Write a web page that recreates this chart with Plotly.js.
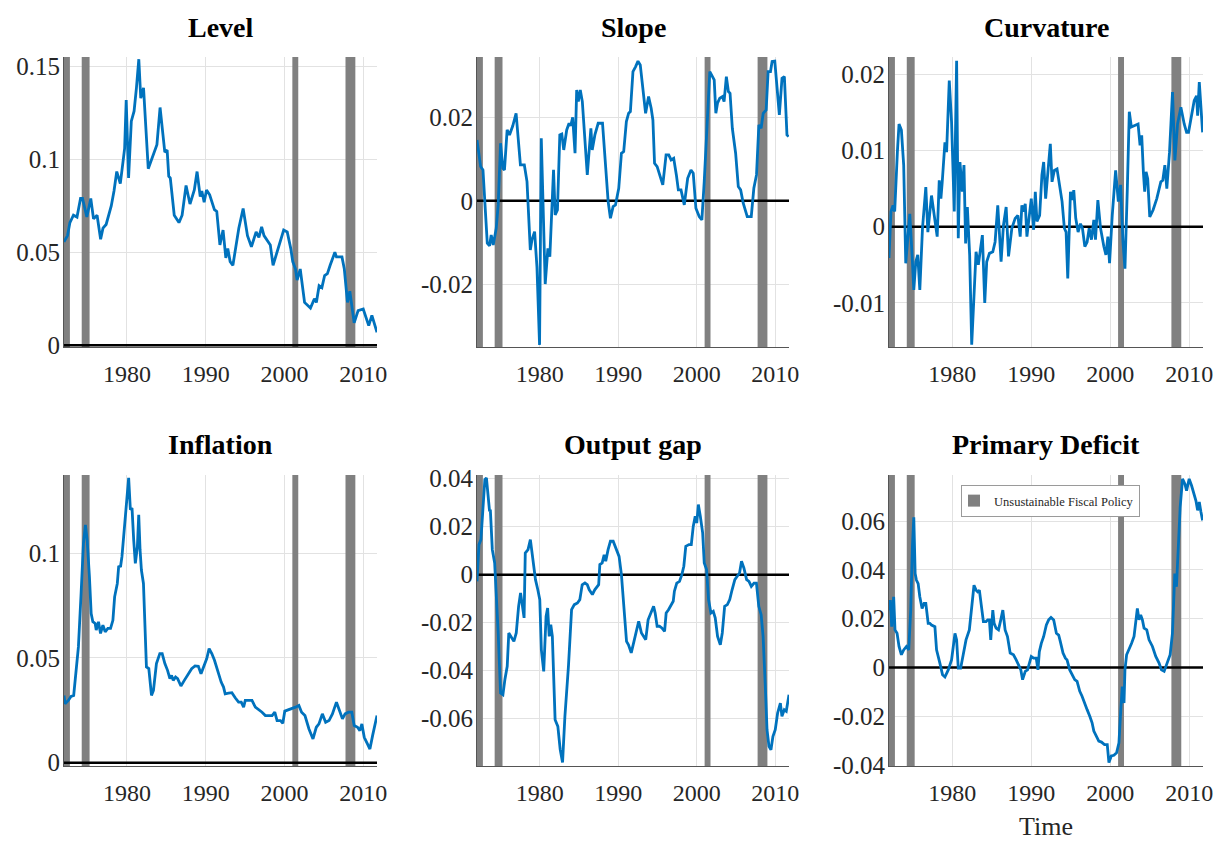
<!DOCTYPE html>
<html>
<head>
<meta charset="utf-8">
<script src="https://cdn.plot.ly/plotly-3.0.1.min.js"></script>
<style>html,body{margin:0;padding:0;background:#fff;}#chart{width:1222px;height:843px;}</style>
</head>
<body>
<div id="chart"></div>
<script>
// ---------- data ----------
const levelYears = [
1972.0, 1972.45, 1972.75, 1973.2, 1973.65, 1974.1, 1974.35, 1974.9, 1975.4, 1975.75,
1976.2, 1976.65, 1976.95, 1977.35, 1978.0, 1978.35, 1978.7, 1979.15, 1979.5, 1979.7,
1979.9, 1980.2, 1980.55, 1980.9, 1981.2, 1981.5, 1981.75, 1982.1, 1982.7, 1983.1,
1983.8, 1984.2, 1984.6, 1984.8, 1985.1, 1985.3, 1985.5, 1986.0, 1986.6, 1987.0,
1987.5, 1988.0, 1988.55, 1988.9, 1989.3, 1989.5, 1989.8, 1990.1, 1990.5, 1991.1,
1991.4, 1991.8, 1992.2, 1992.55, 1992.8, 1993.1, 1993.45, 1994.2, 1994.75, 1995.3,
1995.8, 1996.4, 1996.75, 1997.1, 1997.4, 1998.2, 1998.55, 1999.3, 1999.9, 2000.35,
2000.8, 2001.05, 2001.4, 2001.6, 2002.0, 2002.55, 2003.3, 2003.8, 2004.05, 2004.4,
2004.75, 2005.1, 2005.45, 2005.8, 2006.4, 2006.6, 2007.3, 2007.6, 2008.0, 2008.3,
2008.85, 2009.35, 2010.0, 2010.7, 2011.1, 2011.75];
const levelValues = [
0.0556, 0.059, 0.066, 0.070, 0.069, 0.079, 0.079, 0.069, 0.079, 0.068,
0.070, 0.057, 0.063, 0.065, 0.075, 0.083, 0.0935, 0.087, 0.099, 0.106,
0.132, 0.090, 0.1206, 0.126, 0.1386, 0.154, 0.133, 0.1386, 0.095, 0.100,
0.108, 0.128, 0.114, 0.104, 0.105, 0.091, 0.090, 0.070, 0.066, 0.070,
0.086, 0.076, 0.0836, 0.0935, 0.080, 0.083, 0.077, 0.0836, 0.081, 0.073,
0.072, 0.054, 0.062, 0.047, 0.052, 0.045, 0.043, 0.063, 0.0736, 0.059,
0.053, 0.061, 0.058, 0.0637, 0.059, 0.054, 0.043, 0.054, 0.062, 0.061,
0.052, 0.045, 0.041, 0.035, 0.041, 0.023, 0.020, 0.025, 0.023, 0.032,
0.031, 0.0375, 0.0385, 0.043, 0.050, 0.0475, 0.0475, 0.041, 0.023, 0.029,
0.012, 0.0186, 0.0195, 0.0105, 0.016, 0.0069];

const slopeYears = [
1972.0, 1972.46, 1972.76, 1973.31, 1973.6, 1973.81, 1974.07, 1974.45, 1974.7, 1975.0,
1975.29, 1975.5, 1975.84, 1976.14, 1976.56, 1976.98, 1977.53, 1978.03, 1978.37, 1978.79,
1979.0, 1979.34, 1979.64, 1979.97, 1980.19, 1980.48, 1980.69, 1981.03, 1981.28, 1981.75,
1981.96, 1982.25, 1982.55, 1982.8, 1983.05, 1983.43, 1983.73, 1983.94, 1984.19, 1984.49,
1984.7, 1984.91, 1985.16, 1985.42, 1985.76, 1986.05, 1986.51, 1986.68, 1987.02, 1987.44,
1987.99, 1988.29, 1988.71, 1989.0, 1989.34, 1989.64, 1990.06, 1990.4, 1990.69, 1991.03,
1991.32, 1991.54, 1991.87, 1992.21, 1992.51, 1992.8, 1993.14, 1993.48, 1993.86, 1994.19,
1994.41, 1994.62, 1994.95, 1995.29, 1995.67, 1996.09, 1996.43, 1996.73, 1997.06, 1997.4,
1997.65, 1997.99, 1998.41, 1998.84, 1999.26, 1999.55, 1999.89, 2000.31, 2000.65, 2000.95,
2001.37, 2001.66, 2002.0, 2002.22, 2002.43, 2002.64, 2002.93, 2003.27, 2003.48, 2003.77,
2004.03, 2004.24, 2004.53, 2004.95, 2005.29, 2005.59, 2005.92, 2006.43, 2006.94, 2007.27,
2007.61, 2007.91, 2008.2, 2008.46, 2008.84, 2009.09, 2009.39, 2009.6, 2009.94, 2010.23,
2010.52, 2010.86, 2011.16, 2011.49, 2011.7];
const slopeValues = [
0.0146, 0.0082, 0.0074, -0.0102, -0.0108, -0.0082, -0.0106, -0.0066, -0.001, 0.0138,
0.0078, 0.0074, 0.017, 0.0158, 0.018, 0.021, 0.0086, 0.0086, 0.0046, -0.0118,
-0.0094, -0.0074, -0.016, -0.0346, 0.015, -0.0042, -0.020, -0.0114, -0.0134, 0.0074,
-0.0034, -0.0022, 0.0158, 0.016, 0.0122, 0.017, 0.0186, 0.018, 0.020, 0.0114,
0.0266, 0.0238, 0.0266, 0.0238, 0.015, 0.0062, 0.0174, 0.0122, 0.0158, 0.0186,
0.0186, 0.011, -0.0002, -0.0042, -0.0014, -0.001, 0.003, 0.0114, 0.0118, 0.019,
0.021, 0.0214, 0.031, 0.0322, 0.0335, 0.0326, 0.0262, 0.021, 0.025, 0.0222,
0.0194, 0.009, 0.0082, 0.0058, 0.0038, 0.011, 0.011, 0.0098, 0.0102, 0.0062,
0.0026, 0.0026, -0.001, 0.0054, 0.0074, 0.0066, -0.0018, -0.0038, -0.0046, 0.0046,
0.019, 0.031, 0.0298, 0.029, 0.021, 0.0234, 0.0246, 0.025, 0.0238, 0.0298,
0.0262, 0.0258, 0.0174, 0.0114, 0.0034, 0.0026, -0.0006, -0.0038, -0.0038, 0.003,
0.0062, 0.0182, 0.0174, 0.021, 0.0218, 0.031, 0.031, 0.0334, 0.0335, 0.0278,
0.0206, 0.0294, 0.0298, 0.0158, 0.0154];

const curvatureYears = [
1972.0, 1972.25, 1972.51, 1972.72, 1973.06, 1973.27, 1973.57, 1973.86, 1974.12, 1974.42,
1974.63, 1974.92, 1975.14, 1975.39, 1975.64, 1975.9, 1976.24, 1976.66, 1976.92, 1977.38,
1977.72, 1978.1, 1978.36, 1978.57, 1978.74, 1979.08, 1979.29, 1979.63, 1979.92, 1980.26,
1980.56, 1980.77, 1980.98, 1981.28, 1981.49, 1981.7, 1981.92, 1982.04, 1982.21, 1982.47,
1982.76, 1983.02, 1983.31, 1983.53, 1983.82, 1984.12, 1984.37, 1984.71, 1985.14, 1985.43,
1985.77, 1985.94, 1986.19, 1986.49, 1986.83, 1987.13, 1987.55, 1987.97, 1988.31, 1988.61,
1988.82, 1989.03, 1989.25, 1989.46, 1989.8, 1990.01, 1990.31, 1990.52, 1990.73, 1991.07,
1991.36, 1991.58, 1991.83, 1992.17, 1992.42, 1992.64, 1992.93, 1993.27, 1993.61, 1993.91,
1994.2, 1994.42, 1994.63, 1994.97, 1995.18, 1995.39, 1995.64, 1995.94, 1996.24, 1996.49,
1996.79, 1997.08, 1997.34, 1997.63, 1997.93, 1998.14, 1998.44, 1998.78, 1999.2, 1999.46,
1999.71, 1999.92, 2000.26, 2000.69, 2001.03, 2001.32, 2001.62, 2001.87, 2002.17, 2002.42,
2002.68, 2003.1, 2003.53, 2003.78, 2003.99, 2004.2, 2004.37, 2004.54, 2004.75, 2005.01,
2005.43, 2005.9, 2006.41, 2006.66, 2006.92, 2007.17, 2007.51, 2007.89, 2008.19, 2008.53,
2008.95, 2009.37, 2009.67, 2009.92, 2010.31, 2010.64, 2010.94, 2011.07, 2011.28, 2011.49,
2011.7];
const curvatureValues = [
-0.0041, 0.002, 0.0028, 0.002, 0.0098, 0.0135, 0.0127, 0.0081, -0.0048, -0.0007,
0.0017, -0.0037, -0.0083, -0.0046, -0.0037, -0.0083, -0.0002, 0.0052, -0.0007, 0.0041,
0.0015, -0.0013, 0.0061, 0.0037, 0.0059, 0.0111, 0.0098, 0.0192, 0.0138, 0.002,
0.0218, -0.0015, 0.0085, 0.0046, 0.0081, -0.0022, 0.0026, 0.0002, -0.0037, -0.0155,
-0.0081, -0.0033, -0.005, -0.0035, -0.0011, -0.010, -0.0046, -0.0035, -0.0033, -0.002,
0.0028, -0.0002, -0.0046, 0.0002, 0.0026, -0.0039, -0.0002, 0.0011, 0.0015, -0.0013,
0.0028, 0.002, 0.003, -0.0013, 0.002, 0.0037, -0.0004, 0.0046, 0.0007, 0.0015,
0.0068, 0.0085, 0.0037, 0.0074, 0.0109, 0.0059, 0.0074, 0.0076, 0.0055, 0.0033,
-0.0002, -0.0007, -0.0068, 0.0046, 0.0035, 0.0048, 0.0011, -0.0007, 0.0004, -0.0002,
-0.0026, -0.002, -0.0002, -0.0017, 0.0009, -0.0017, 0.0035, -0.0002, -0.0026, -0.0037,
-0.0013, -0.0048, 0.0015, 0.0074, 0.0033, 0.0055, -0.002, -0.0055, 0.005, 0.0151,
0.0131, 0.0133, 0.0135, 0.0107, 0.012, 0.0072, 0.0046, 0.0072, 0.0063, 0.0013,
0.0022, 0.0037, 0.0059, 0.0061, 0.0081, 0.005, 0.0098, 0.0177, 0.0087, 0.0135,
0.0157, 0.0135, 0.0124, 0.0124, 0.0148, 0.0166, 0.0172, 0.0146, 0.019, 0.0159,
0.0124];

const inflationYears = [
1972.0, 1972.13, 1972.55, 1972.89, 1973.23, 1973.53, 1973.83, 1974.17, 1974.47, 1974.72,
1974.94, 1975.23, 1975.45, 1975.66, 1975.96, 1976.09, 1976.38, 1976.64, 1976.94, 1977.23,
1977.57, 1977.91, 1978.21, 1978.43, 1978.77, 1978.94, 1979.19, 1979.36, 1979.7, 1980.0,
1980.21, 1980.43, 1980.64, 1980.85, 1981.06, 1981.32, 1981.49, 1981.66, 1981.83, 1982.09,
1982.26, 1982.47, 1982.77, 1983.11, 1983.36, 1983.74, 1984.17, 1984.47, 1984.81, 1985.15,
1985.45, 1985.66, 1985.87, 1986.17, 1986.43, 1986.85, 1987.28, 1987.7, 1988.21, 1988.64,
1989.06, 1989.4, 1989.79, 1990.13, 1990.43, 1990.77, 1991.11, 1991.4, 1991.7, 1991.96,
1992.26, 1992.47, 1992.89, 1993.32, 1993.74, 1994.17, 1994.51, 1994.81, 1995.02, 1995.36,
1995.87, 1996.3, 1996.72, 1997.15, 1997.57, 1998.0, 1998.43, 1998.77, 1999.06, 1999.49,
1999.79, 2000.04, 2000.55, 2000.98, 2001.4, 2001.83, 2002.17, 2002.6, 2003.11, 2003.62,
2004.04, 2004.38, 2004.81, 2005.23, 2005.66, 2006.09, 2006.6, 2007.02, 2007.36, 2007.7,
2008.13, 2008.55, 2008.85, 2009.28, 2009.57, 2009.83, 2010.13, 2010.55, 2010.85, 2011.19,
2011.75];
const inflationValues = [
0.0321, 0.0281, 0.0297, 0.0316, 0.0321, 0.0425, 0.0553, 0.0808, 0.1048, 0.1136,
0.1064, 0.0888, 0.0712, 0.0673, 0.0665, 0.0633, 0.0673, 0.0617, 0.0657, 0.0625,
0.0641, 0.0641, 0.068, 0.0792, 0.0856, 0.0936, 0.0939, 0.0984, 0.1144, 0.1304,
0.136, 0.1208, 0.1216, 0.1064, 0.0952, 0.1032, 0.1184, 0.1016, 0.092, 0.0856,
0.0665, 0.0457, 0.0449, 0.0321, 0.0345, 0.0473, 0.0521, 0.0521, 0.0473, 0.0441,
0.0401, 0.0417, 0.0393, 0.0409, 0.0401, 0.0366, 0.0393, 0.0417, 0.0449, 0.0462,
0.046, 0.0425, 0.0465, 0.0497, 0.0545, 0.0521, 0.0489, 0.0449, 0.0417, 0.0385,
0.0361, 0.0329, 0.0332, 0.0334, 0.031, 0.0289, 0.0289, 0.0265, 0.0297, 0.0297,
0.0297, 0.0265, 0.0254, 0.0241, 0.0225, 0.0225, 0.0225, 0.0241, 0.0201, 0.0201,
0.0188, 0.0246, 0.0252, 0.0257, 0.0265, 0.0273, 0.0241, 0.0225, 0.0161, 0.0113,
0.0169, 0.0185, 0.0233, 0.0193, 0.0201, 0.0233, 0.0289, 0.0246, 0.0209, 0.0233,
0.0241, 0.0241, 0.0177, 0.0169, 0.0153, 0.0185, 0.0121, 0.0089, 0.0065, 0.0129,
0.0225];

const outputGapYears = [
1972.0, 1972.25, 1972.5, 1972.75, 1973.0, 1973.2, 1973.45, 1973.6, 1973.7, 1973.95,
1974.25, 1974.45, 1974.7, 1975.0, 1975.3, 1975.55, 1975.85, 1976.05, 1976.35, 1976.7,
1977.0, 1977.3, 1977.55, 1977.82, 1978.0, 1978.15, 1978.5, 1978.8, 1979.1, 1979.45,
1979.75, 1980.0, 1980.2, 1980.5, 1980.8, 1981.0, 1981.2, 1981.4, 1981.6, 1981.95,
1982.3, 1982.6, 1982.9, 1983.2, 1983.65, 1984.05, 1984.4, 1984.8, 1985.1, 1985.4,
1985.75, 1986.05, 1986.3, 1986.7, 1987.0, 1987.2, 1987.5, 1987.65, 1987.95, 1988.2,
1988.4, 1988.7, 1989.0, 1989.35, 1989.65, 1989.85, 1990.1, 1990.4, 1990.75, 1991.05,
1991.3, 1991.65, 1992.0, 1992.3, 1992.6, 1992.95, 1993.25, 1993.5, 1993.8, 1994.1,
1994.3, 1994.5, 1994.7, 1994.95, 1995.25, 1995.55, 1995.9, 1996.1, 1996.4, 1996.75,
1997.0, 1997.15, 1997.45, 1997.8, 1998.1, 1998.35, 1998.6, 1999.0, 1999.3, 1999.55,
1999.8, 2000.0, 2000.2, 2000.45, 2000.75, 2000.95, 2001.25, 2001.5, 2001.8, 2002.1,
2002.35, 2002.65, 2003.0, 2003.25, 2003.55, 2003.9, 2004.2, 2004.5, 2004.85, 2005.15,
2005.45, 2005.7, 2006.0, 2006.35, 2006.65, 2006.95, 2007.3, 2007.6, 2007.9, 2008.2,
2008.45, 2008.75, 2008.95, 2009.2, 2009.45, 2009.7, 2010.0, 2010.3, 2010.65, 2010.85,
2011.15, 2011.4, 2011.75];
const outputGapValues = [
-0.0028, 0.0125, 0.0146, 0.0285, 0.0396, 0.0403, 0.0326, 0.0264, 0.0271, 0.0104,
0.0049, -0.0076, -0.0243, -0.0493, -0.050, -0.0438, -0.0382, -0.0243, -0.0257, -0.0278,
-0.0243, -0.0132, -0.0076, -0.0132, -0.018, 0.009, 0.0104, 0.0146, 0.0076, -0.0021,
-0.0063, -0.0104, -0.0313, -0.0403, -0.0174, -0.0139, -0.0257, -0.0208, -0.0257, -0.0604,
-0.0632, -0.0729, -0.0782, -0.059, -0.0382, -0.0146, -0.0125, -0.0118, -0.0104, -0.0042,
-0.0035, -0.0042, -0.0063, -0.0083, -0.0063, -0.0056, -0.0042, 0.0042, 0.0049, 0.0083,
0.0056, 0.0104, 0.0139, 0.0139, 0.0111, 0.009, 0.0076, 0.0, -0.016, -0.0278,
-0.0292, -0.0326, -0.0278, -0.0236, -0.0194, -0.0243, -0.0257, -0.0271, -0.0188, -0.016,
-0.0146, -0.0132, -0.016, -0.0215, -0.0215, -0.0222, -0.0236, -0.016, -0.0146, -0.0125,
-0.0111, -0.0069, -0.0035, -0.0028, 0.0, 0.0035, 0.0118, 0.0125, 0.0125, 0.0201,
0.0243, 0.0215, 0.0292, 0.0243, 0.0174, 0.0049, 0.0021, -0.0104, -0.016, -0.0153,
-0.018, -0.0257, -0.0292, -0.0243, -0.0132, -0.0125, -0.0104, -0.0063, -0.0021, -0.0007,
0.0007, 0.0056, 0.0028, -0.0021, -0.0028, -0.0049, -0.0035, -0.0035, -0.0132, -0.0167,
-0.0257, -0.0479, -0.0646, -0.0715, -0.0729, -0.0674, -0.0646, -0.0576, -0.0535, -0.059,
-0.0563, -0.0569, -0.050];

const deficitYears = [
1972.0, 1972.17, 1972.34, 1972.59, 1972.76, 1973.02, 1973.27, 1973.57, 1973.86, 1974.2,
1974.5, 1974.75, 1974.97, 1975.14, 1975.31, 1975.47, 1975.69, 1975.9, 1976.19, 1976.45,
1976.66, 1976.96, 1977.17, 1977.38, 1977.81, 1978.02, 1978.44, 1978.78, 1979.08, 1979.5,
1979.92, 1980.14, 1980.35, 1980.56, 1980.77, 1981.07, 1981.41, 1981.75, 1982.17, 1982.47,
1982.76, 1983.02, 1983.23, 1983.44, 1983.74, 1983.95, 1984.29, 1984.5, 1984.71, 1984.88,
1985.14, 1985.31, 1985.56, 1985.86, 1986.15, 1986.41, 1986.7, 1987.0, 1987.34, 1987.76,
1988.1, 1988.4, 1988.69, 1988.91, 1989.25, 1989.54, 1989.8, 1990.01, 1990.31, 1990.64,
1990.86, 1991.03, 1991.28, 1991.58, 1991.92, 1992.21, 1992.51, 1992.85, 1993.19, 1993.48,
1993.69, 1994.03, 1994.33, 1994.54, 1994.88, 1995.18, 1995.51, 1995.81, 1996.15, 1996.44,
1996.74, 1997.08, 1997.42, 1997.71, 1997.93, 1998.27, 1998.56, 1998.9, 1999.28, 1999.63,
1999.84, 2000.14, 2000.47, 2000.81, 2001.11, 2001.32, 2001.53, 2001.75, 2001.87, 2002.08,
2002.38, 2002.71, 2003.02, 2003.23, 2003.44, 2003.65, 2003.86, 2004.08, 2004.29, 2004.63,
2004.92, 2005.35, 2005.77, 2006.19, 2006.49, 2006.83, 2007.25, 2007.59, 2007.88, 2008.18,
2008.39, 2008.61, 2008.86, 2009.16, 2009.46, 2009.67, 2010.0, 2010.3, 2010.64, 2010.85,
2011.07, 2011.28, 2011.49, 2011.7];
const deficitValues = [
0.0235, 0.0276, 0.0167, 0.029, 0.0154, 0.014, 0.0086, 0.0052, 0.0072, 0.0086,
0.0072, 0.0235, 0.0501, 0.0616, 0.0385, 0.0358, 0.0344, 0.029, 0.0242, 0.0263,
0.0263, 0.0181, 0.0181, 0.0174, 0.0167, 0.0072, 0.0018, -0.003, -0.0039, -0.001,
0.0031, 0.0099, 0.014, 0.0113, -0.0003, -0.0003, 0.0052, 0.0113, 0.0154, 0.0249,
0.0337, 0.0317, 0.031, 0.0317, 0.0249, 0.0188, 0.0188, 0.0195, 0.0195, 0.0113,
0.0235, 0.0181, 0.0161, 0.0154, 0.0195, 0.0235, 0.0154, 0.0127, 0.0059, 0.0052,
0.0031, 0.0011, -0.001, -0.005, -0.0016, -0.001, 0.0024, 0.0045, 0.0038, 0.0038,
-0.001, 0.0065, 0.0099, 0.0127, 0.0174, 0.0195, 0.0205, 0.0195, 0.014, 0.0133,
0.0106, 0.0059, 0.0038, 0.0031, -0.001, -0.003, -0.005, -0.0057, -0.0098, -0.0118,
-0.0146, -0.0173, -0.020, -0.0227, -0.0261, -0.0282, -0.0302, -0.0306, -0.0316, -0.0316,
-0.039, -0.0363, -0.036, -0.035, -0.0309, -0.0186, -0.0078, -0.0146, -0.001, 0.0052,
0.0072, 0.0099, 0.0127, 0.0188, 0.0242, 0.0195, 0.0215, 0.0195, 0.0161, 0.0154,
0.0113, 0.0086, 0.0045, 0.0018, -0.001, -0.0016, 0.0018, 0.0052, 0.014, 0.0385,
0.0331, 0.0467, 0.0657, 0.0773, 0.0752, 0.0725, 0.0773, 0.0746, 0.0712, 0.0684,
0.0644, 0.0678, 0.0637, 0.0603];

// Unsustainable fiscal policy episodes (start / end, in years)
const fiscalStart = [1972.0, 1974.25, 2001.0, 2007.75];
const fiscalEnd   = [1972.75, 1975.25, 2001.75, 2009.0];
const legendLabel = "Unsustainable Fiscal Policy";

// Panel titles and tick labels
const panelTitles = ["Level", "Slope", "Curvature", "Inflation", "Output gap", "Primary Deficit"];
const xTickVals = [1980, 1990, 2000, 2010];
const xTickText = ["1980", "1990", "2000", "2010"];
const yTickVals = [
  [0, 0.05, 0.1, 0.15],
  [-0.02, 0, 0.02],
  [-0.01, 0, 0.01, 0.02],
  [0, 0.05, 0.1],
  [-0.06, -0.04, -0.02, 0, 0.02, 0.04],
  [-0.04, -0.02, 0, 0.02, 0.04, 0.06]
];
const yTickText = [
  ["0", "0.05", "0.1", "0.15"],
  ["-0.02", "0", "0.02"],
  ["-0.01", "0", "0.01", "0.02"],
  ["0", "0.05", "0.1"],
  ["-0.06", "-0.04", "-0.02", "0", "0.02", "0.04"],
  ["-0.04", "-0.02", "0", "0.02", "0.04", "0.06"]
];
const xAxisTitle = "Time";

// ---------- layout settings ----------
const W = 1222, H = 843;
const xRange = [1972, 2011.75];
const yRanges = [
  [-0.001, 0.1552],
  [-0.0351, 0.0345],
  [-0.0158, 0.0223],
  [-0.0016, 0.1374],
  [-0.0797, 0.0415],
  [-0.0404, 0.0789]
];
const colPx = [[64, 377], [477, 789], [889, 1203]];
const rowPx = [[57, 347], [475, 766]];

const seriesYears = [levelYears, slopeYears, curvatureYears, inflationYears, outputGapYears, deficitYears];
const seriesValues = [levelValues, slopeValues, curvatureValues, inflationValues, outputGapValues, deficitValues];

const serif = "'Liberation Serif', 'Times New Roman', Times, serif";
const traces = [];
const layout = {
  width: W, height: H, autosize: false,
  margin: {l: 0, r: 0, t: 0, b: 0, pad: 0},
  paper_bgcolor: "#ffffff", plot_bgcolor: "#ffffff",
  font: {family: serif, color: "#262626"},
  barmode: "overlay",
  showlegend: true,
  legend: {
    x: 961 / W, y: 1 - 485 / H, xanchor: "left", yanchor: "top",
    bgcolor: "#ffffff", bordercolor: "#9a9a9a", borderwidth: 1,
    font: {family: serif, size: 12.5, color: "#262626"},
    itemsizing: "constant", indentation: -8, tracegroupgap: 0
  },
  annotations: [],
  shapes: []
};

const bandMid = fiscalStart.map((s, i) => (s + fiscalEnd[i]) / 2);
const bandWidth = fiscalStart.map((s, i) => fiscalEnd[i] - s);

for (let p = 0; p < 6; p++) {
  const r = Math.floor(p / 3), c = p % 3;
  const n = p + 1;
  const xa = "xaxis" + (n === 1 ? "" : n), ya = "yaxis" + (n === 1 ? "" : n);
  const xr = "x" + (n === 1 ? "" : n), yr = "y" + (n === 1 ? "" : n);
  const xDom = [colPx[c][0] / W, colPx[c][1] / W];
  const yDom = [1 - rowPx[r][1] / H, 1 - rowPx[r][0] / H];
  const yRange = yRanges[p];

  layout[xa] = {
    domain: xDom, anchor: yr, range: xRange, fixedrange: true,
    tickmode: "array", tickvals: xTickVals, ticktext: xTickText,
    ticks: "", ticklabelstandoff: 5,
    tickfont: {family: serif, size: 24, color: "#262626"},
    showgrid: true, gridcolor: "#e2e2e2", gridwidth: 1,
    showline: true, linecolor: "#555555", linewidth: 1,
    zeroline: false, automargin: false
  };
  layout[ya] = {
    domain: yDom, anchor: xr, range: yRange, fixedrange: true,
    tickmode: "array", tickvals: yTickVals[p], ticktext: yTickText[p],
    ticks: "", ticklabelstandoff: -2,
    tickfont: {family: serif, size: 25, color: "#262626"},
    showgrid: true, gridcolor: "#e2e2e2", gridwidth: 1,
    showline: true, linecolor: "#555555", linewidth: 1,
    zeroline: false, automargin: false
  };

  // shaded episodes
  traces.push({
    type: "bar", xaxis: xr, yaxis: yr,
    x: bandMid, width: bandWidth,
    base: fiscalStart.map(() => yRange[0]),
    y: fiscalStart.map(() => yRange[1] - yRange[0]),
    marker: {color: "#808080", line: {width: 0}},
    name: legendLabel, legendgroup: "fiscal",
    showlegend: p === 0, hoverinfo: "skip"
  });
  // zero reference line
  const ys = seriesYears[p];
  traces.push({
    type: "scatter", mode: "lines", xaxis: xr, yaxis: yr,
    x: [xRange[0], xRange[1]], y: [0, 0],
    line: {color: "#000000", width: 2.5},
    showlegend: false, hoverinfo: "skip", cliponaxis: true
  });
  // series
  traces.push({
    type: "scatter", mode: "lines", xaxis: xr, yaxis: yr,
    x: ys, y: seriesValues[p],
    line: {color: "#0072BD", width: 2.8},
    name: panelTitles[p], showlegend: false
  });

  // panel title
  layout.annotations.push({
    text: panelTitles[p], xref: "paper", yref: "paper",
    x: (xDom[0] + xDom[1]) / 2, y: 1 - (r === 0 ? 27 : 444) / H,
    xanchor: "center", yanchor: "middle", showarrow: false,
    font: {family: serif, size: 28, color: "#000000", weight: "bold"}
  });
}

// x-axis label under the last panel
layout.annotations.push({
  text: xAxisTitle, xref: "paper", yref: "paper",
  x: (colPx[2][0] + colPx[2][1]) / 2 / W, y: 0,
  xanchor: "center", yanchor: "bottom", showarrow: false,
  font: {family: serif, size: 26, color: "#262626"}
});

Plotly.newPlot("chart", traces, layout, {displayModeBar: false, staticPlot: true});
</script>
</body>
</html>
